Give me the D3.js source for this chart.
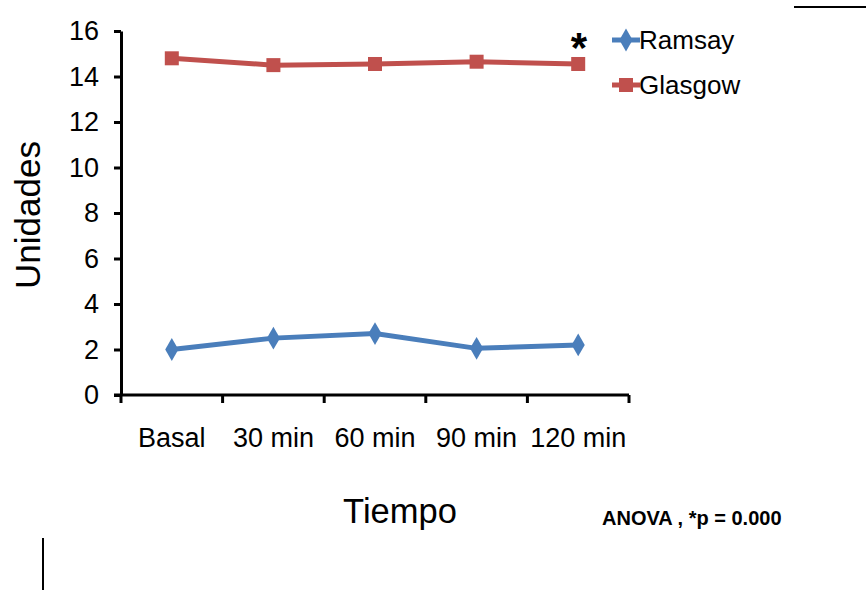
<!DOCTYPE html>
<html>
<head>
<meta charset="utf-8">
<script src="https://cdn.jsdelivr.net/npm/d3@7"></script>
<style>
  body { margin: 0; background: #fff; }
  svg { display: block; font-family: "Liberation Sans", Arial, sans-serif; }
</style>
</head>
<body>
<div id="chart"></div>
<script>
const categories = ["Basal", "30 min", "60 min", "90 min", "120 min"];
const ramsay = [2.0, 2.5, 2.7, 2.05, 2.2];
const glasgow = [14.8, 14.5, 14.55, 14.65, 14.55];
const yTicks = [0, 2, 4, 6, 8, 10, 12, 14, 16];

const width = 866, height = 590;
const margin = { top: 31, left: 121, right: 237, bottom: 195 };

const svg = d3.select("#chart").append("svg")
  .attr("width", width)
  .attr("height", height);

const x = d3.scaleBand()
  .domain(categories)
  .range([margin.left, width - margin.right]);

const y = d3.scaleLinear()
  .domain([0, 16])
  .range([height - margin.bottom, margin.top]);

// y axis
const yAxis = svg.append("g")
  .attr("transform", `translate(${margin.left},0)`)
  .call(d3.axisLeft(y).tickValues(yTicks).tickSize(7).tickSizeOuter(0));
yAxis.select(".domain").attr("stroke", "#000").attr("stroke-width", 3);
yAxis.selectAll(".tick line").attr("stroke-width", 3);
yAxis.selectAll(".tick text")
  .attr("font-size", 27).attr("font-family", "Liberation Sans, Arial").attr("fill", "#000")
  .attr("x", -22);

// x axis, ticks between categories
const xAxisG = svg.append("g")
  .attr("transform", `translate(0,${y(0)})`);
xAxisG.append("line")
  .attr("x1", margin.left - 7).attr("x2", width - margin.right)
  .attr("stroke", "#000").attr("stroke-width", 3);
const bounds = categories.map(c => x(c)).concat([x(categories[categories.length - 1]) + x.bandwidth()]);
xAxisG.selectAll(".xt")
  .data(bounds)
  .enter().append("line")
  .attr("x1", d => d).attr("x2", d => d)
  .attr("y1", 0).attr("y2", 8)
  .attr("stroke", "#000").attr("stroke-width", 3);
xAxisG.selectAll(".xl")
  .data(categories)
  .enter().append("text")
  .attr("x", d => x(d) + x.bandwidth() / 2)
  .attr("y", 52)
  .attr("text-anchor", "middle")
  .attr("font-size", 27)
  .text(d => d);

const cx = d => x(d) + x.bandwidth() / 2;
const line = d3.line()
  .x((d, i) => cx(categories[i]))
  .y(d => y(d));

const blue = "#4a7ebb", red = "#c0504d";

svg.append("path").datum(glasgow)
  .attr("d", line).attr("fill", "none")
  .attr("stroke", red).attr("stroke-width", 5);
svg.selectAll(".gm").data(glasgow).enter().append("rect")
  .attr("x", (d, i) => cx(categories[i]) - 7)
  .attr("y", d => y(d) - 7)
  .attr("width", 14).attr("height", 14)
  .attr("fill", red);

svg.append("path").datum(ramsay)
  .attr("d", line).attr("fill", "none")
  .attr("stroke", blue).attr("stroke-width", 5);
svg.selectAll(".rm").data(ramsay).enter().append("path")
  .attr("d", d3.symbol(d3.symbolDiamond, 150))
  .attr("transform", (d, i) => `translate(${cx(categories[i])},${y(d)})`)
  .attr("fill", blue);

// legend
const legend = [
  { name: "Ramsay", color: blue, shape: "diamond", y: 40 },
  { name: "Glasgow", color: red, shape: "square", y: 85 }
];
const lg = svg.selectAll(".lg").data(legend).enter().append("g")
  .attr("transform", d => `translate(612,${d.y})`);
lg.append("line").attr("x1", 0).attr("x2", 28)
  .attr("stroke", d => d.color).attr("stroke-width", 5);
lg.append("path")
  .attr("d", d => d.shape === "diamond" ? d3.symbol(d3.symbolDiamond, 150)() : d3.symbol(d3.symbolSquare, 196)())
  .attr("transform", "translate(14,0)")
  .attr("fill", d => d.color);
lg.append("text")
  .attr("x", 27).attr("y", 9)
  .attr("font-size", 26)
  .text(d => d.name);

svg.append("text")
  .attr("x", 579).attr("y", 62)
  .attr("text-anchor", "middle")
  .attr("font-size", 42)
  .attr("font-weight", "bold")
  .text("*");

// axis titles
svg.append("text")
  .attr("transform", `translate(40,215) rotate(-90)`)
  .attr("text-anchor", "middle")
  .attr("font-size", 35)
  .text("Unidades");

svg.append("text")
  .attr("x", 400).attr("y", 523)
  .attr("text-anchor", "middle")
  .attr("font-size", 34.5)
  .text("Tiempo");

svg.append("text")
  .attr("x", 602).attr("y", 525)
  .attr("font-size", 20)
  .attr("font-weight", "bold")
  .text("ANOVA , *p = 0.000");

// stray rules from the page
svg.append("line")
  .attr("x1", 794).attr("x2", 866).attr("y1", 7).attr("y2", 7)
  .attr("stroke", "#000").attr("stroke-width", 2);
svg.append("line")
  .attr("x1", 43).attr("x2", 43).attr("y1", 538).attr("y2", 590)
  .attr("stroke", "#000").attr("stroke-width", 2);
</script>
</body>
</html>
